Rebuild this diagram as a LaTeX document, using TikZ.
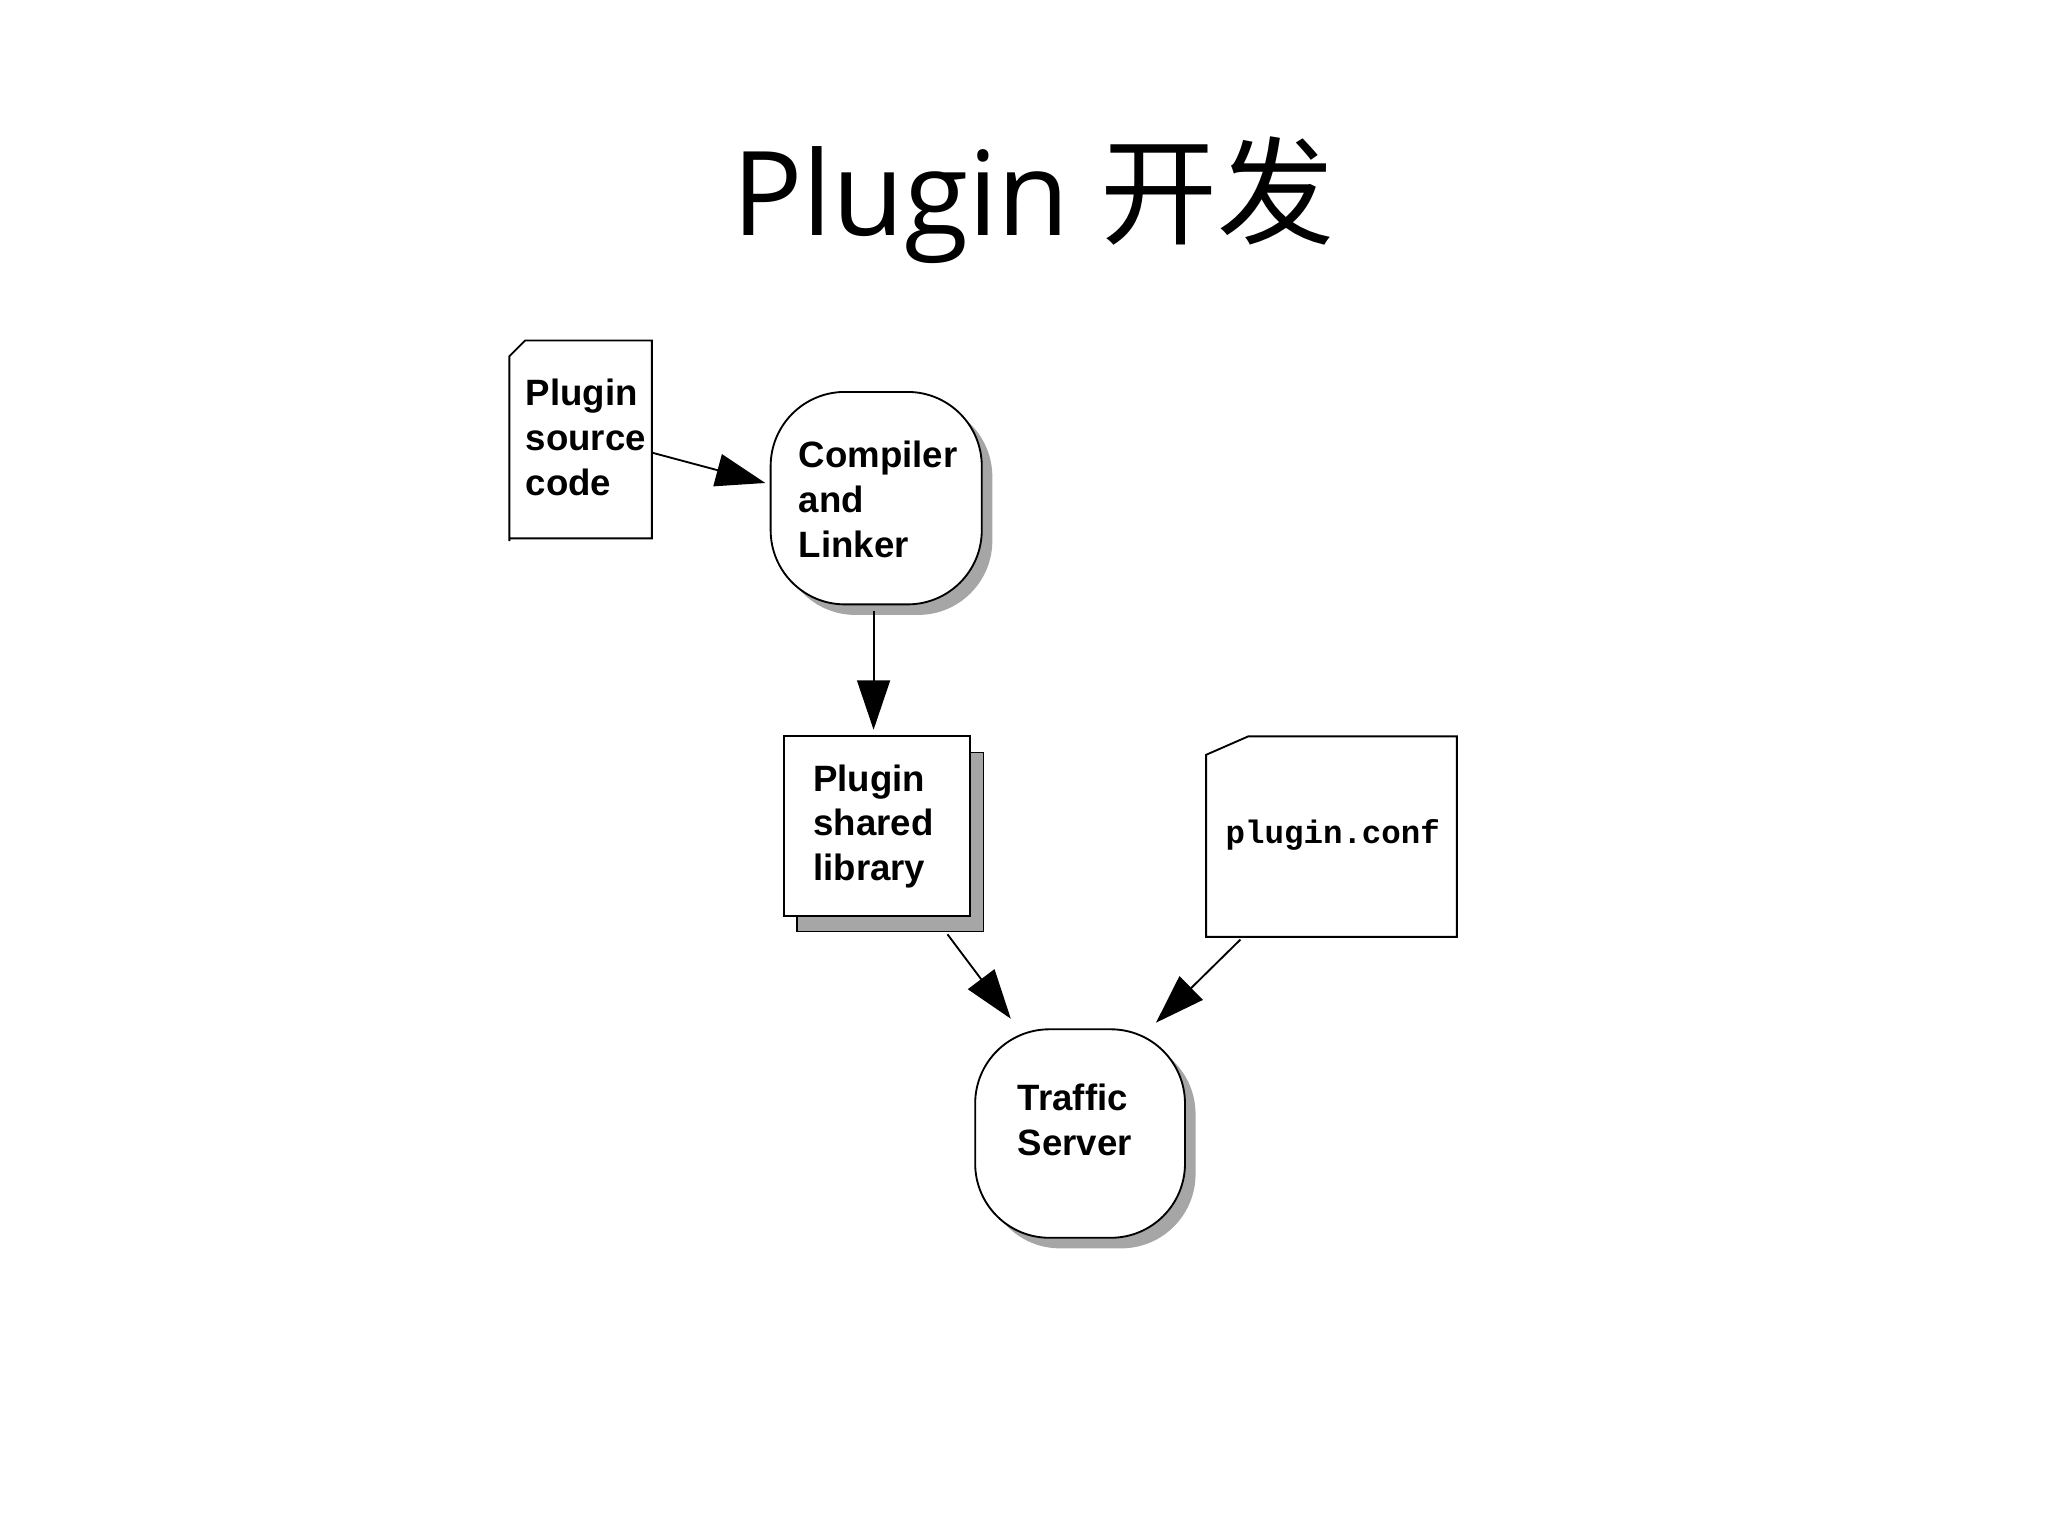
\documentclass[tikz,border=0pt]{standalone}
\usepackage{fontspec}
\setmainfont{Liberation Sans}
\newfontfamily\titlefont{Open Sans}
\newfontfamily\cjk{Noto Sans CJK SC}
\newfontfamily\monof{Liberation Mono}
\usetikzlibrary{arrows.meta}
\begin{document}
\begin{tikzpicture}[x=0.02cm,y=-0.02cm,
  ln/.style={line width=0.8pt},
  arr/.style={ln,-{Triangle[length=0.75cm,width=0.5cm]}},
  lbl/.style={font=\fontsize{15.8}{19.3}\selectfont\bfseries,align=left,anchor=north west,inner sep=0pt},
  sh/.style={fill=black!35,draw=none}]
\useasboundingbox (0,0) rectangle (1552,1164);
\node[font=\fontsize{50.5}{52}\selectfont] (title) at (783,152) {\titlefont Plugin \cjk 开发};
% source doc
\draw[ln] (386,410) -- (386,270) -- (398,258) -- (494,258) -- (494,408) -- (386,408);
\node[lbl] (src) at (398,287) {Plugin\\source\\code};
\coordinate (srcE) at (494,343);
% compiler
\fill[sh,rounded corners=32] (592,305) rectangle (752,466);
\draw[ln,fill=white,rounded corners=32] (584,297) rectangle (744,458);
\node[lbl] (comp) at (605,334) {Compiler\\and\\Linker};
\coordinate (compW) at (580,366);
\coordinate (compS) at (662,463);
% library
\fill[sh] (604,570) rectangle (745,706);
\draw[ln,fill=white] (594,558) rectangle (735,694);
\draw[line width=0.5pt] (735,570) -- (745,570) -- (745,706) -- (604,706) -- (604,694);
\node[lbl] (lib) at (616,579) {Plugin\\shared\\library};
\coordinate (libN) at (662,553);
\coordinate (libS) at (718,708);
% conf
\draw[ln] (914,710) -- (914,572) -- (946,558) -- (1104,558) -- (1104,710) -- cycle;
\node[font=\fontsize{14}{16}\selectfont\bfseries] (conf) at (1010,633) {\monof plugin.conf};
\coordinate (confS) at (940,712);
% traffic server
\fill[sh,rounded corners=32] (747,788) rectangle (906,946);
\draw[ln,fill=white,rounded corners=32] (739,780) rectangle (898,938);
\node[lbl] (ts) at (771,821) {Traffic\\Server};
\coordinate (tsA) at (766,772);
\coordinate (tsB) at (876,775);
\draw[arr] (srcE) -- (compW);
\draw[arr] (compS) -- (libN);
\draw[arr] (libS) -- (tsA);
\draw[arr] (confS) -- (tsB);
\end{tikzpicture}
\end{document}
